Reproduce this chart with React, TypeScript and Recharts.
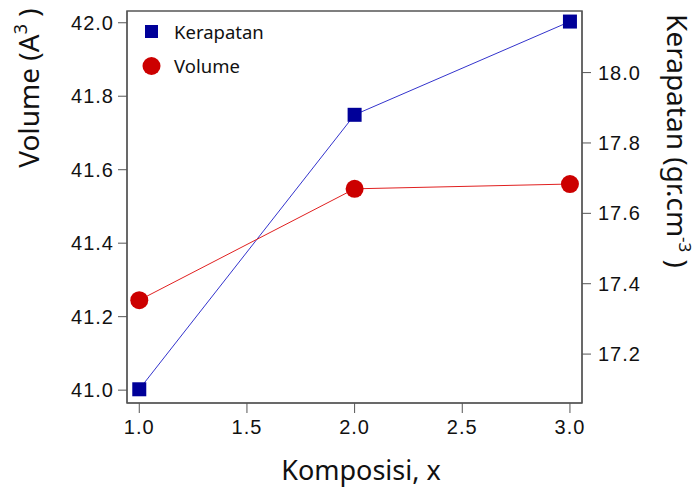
import React from "react";
import {
  Line,
  LineChart,
  Legend,
  ReferenceArea,
  XAxis,
  YAxis,
} from "recharts";

const komposisi = [1.0, 2.0, 3.0];
const kerapatan = [17.1, 17.88, 18.145];
const volume = [41.245, 41.548, 41.561];

const xTicks = [1.0, 1.5, 2.0, 2.5, 3.0];
const volumeTicks = [41.0, 41.2, 41.4, 41.6, 41.8, 42.0];
const kerapatanTicks = [17.2, 17.4, 17.6, 17.8, 18.0];

const data = komposisi.map((x, i) => ({
  x,
  kerapatan: kerapatan[i],
  volume: volume[i],
}));

const X_DOMAIN = [0.943, 3.056];
const VOL_DOMAIN = [40.965, 42.032];
const KER_DOMAIN = [17.061, 18.175];

const BLUE = "#000099";
const RED = "#cc0000";
const AXIS = "#555555";
const FONT = "'Liberation Sans', Arial, sans-serif";
const TITLE_FONT = "'Noto Sans', 'Open Sans', sans-serif";

const SquareDot = (props: any) => {
  const { cx, cy } = props;
  if (cx == null || cy == null) return null;
  return <rect x={cx - 7} y={cy - 7} width={14} height={14} fill={BLUE} />;
};

const CircleDot = (props: any) => {
  const { cx, cy } = props;
  if (cx == null || cy == null) return null;
  return <circle cx={cx} cy={cy} r={9} fill={RED} />;
};

const LegendBox = () => (
  <div style={{ fontFamily: TITLE_FONT, fontSize: 18.5, color: "#111", lineHeight: "34px" }}>
    <div style={{ display: "flex", alignItems: "center" }}>
      <svg width={26} height={16}>
        <rect x={5} y={1} width={13} height={13} fill={BLUE} />
      </svg>
      <span style={{ marginLeft: 8 }}>Kerapatan</span>
    </div>
    <div style={{ display: "flex", alignItems: "center" }}>
      <svg width={26} height={20}>
        <circle cx={11.5} cy={10} r={9} fill={RED} />
      </svg>
      <span style={{ marginLeft: 8 }}>Volume</span>
    </div>
  </div>
);

const tickStyle = { fontSize: 20, fill: "#111", fontFamily: FONT, letterSpacing: 1 };

export default function App() {
  return (
    <div style={{ position: "absolute", left: 0, top: 0, background: "#fff" }}>
      <LineChart
        width={697}
        height={487}
        data={data}
        margin={{ top: 11, right: 35, left: 47, bottom: 44 }}
      >
        <ReferenceArea
          yAxisId="vol"
          x1={X_DOMAIN[0]}
          x2={X_DOMAIN[1]}
          y1={VOL_DOMAIN[0]}
          y2={VOL_DOMAIN[1]}
          fill="none"
          stroke={AXIS}
          strokeWidth={1.5}
          ifOverflow="visible"
        />
        <XAxis
          dataKey="x"
          type="number"
          domain={X_DOMAIN}
          ticks={xTicks}
          allowDataOverflow
          tickFormatter={(v: number) => v.toFixed(1)}
          tick={tickStyle}
          tickSize={10}
          tickMargin={7}
          stroke={AXIS}
          height={40}
          label={() => (
            <text
              x={361}
              y={480}
              textAnchor="middle"
              style={{ fontSize: 27, fill: "#111", fontFamily: TITLE_FONT }}
            >
              Komposisi, x
            </text>
          )}
        />
        <YAxis
          yAxisId="vol"
          orientation="left"
          domain={VOL_DOMAIN}
          ticks={volumeTicks}
          allowDataOverflow
          tickFormatter={(v: number) => v.toFixed(1)}
          tick={tickStyle}
          tickSize={9}
          tickMargin={4}
          stroke={AXIS}
          width={80}
          label={() => (
            <text
              transform="translate(39, 88) rotate(-90)"
              textAnchor="middle"
              style={{ fontSize: 28, fill: "#111", fontFamily: TITLE_FONT }}
            >
              Volume (A<tspan dy={-12} fontSize={18}>3</tspan>
              <tspan dy={12}> )</tspan>
            </text>
          )}
        />
        <YAxis
          yAxisId="ker"
          orientation="right"
          domain={KER_DOMAIN}
          ticks={kerapatanTicks}
          allowDataOverflow
          tickFormatter={(v: number) => v.toFixed(1)}
          tick={tickStyle}
          tickSize={9}
          tickMargin={7}
          stroke={AXIS}
          width={80}
          label={() => (
            <text
              transform="translate(667, 141) rotate(90)"
              textAnchor="middle"
              style={{ fontSize: 28, fill: "#111", fontFamily: TITLE_FONT }}
            >
              Kerapatan (gr.cm<tspan dy={-12} fontSize={17}>-3</tspan>
              <tspan dy={12}> )</tspan>
            </text>
          )}
        />
        <Legend
          layout="vertical"
          verticalAlign="middle"
          align="center"
          content={() => <LegendBox />}
          wrapperStyle={{ left: 140, top: 15, width: 160 }}
        />
        <Line
          yAxisId="ker"
          dataKey="kerapatan"
          stroke="#3333cc"
          strokeWidth={1}
          dot={<SquareDot />}
          activeDot={false}
          isAnimationActive={false}
        />
        <Line
          yAxisId="vol"
          dataKey="volume"
          stroke="#e02020"
          strokeWidth={1}
          dot={<CircleDot />}
          activeDot={false}
          isAnimationActive={false}
        />
      </LineChart>
    </div>
  );
}
